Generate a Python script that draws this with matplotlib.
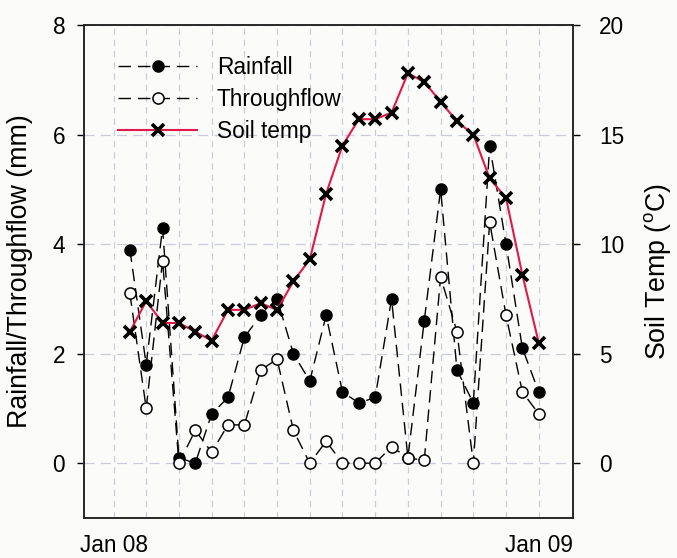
import numpy as np
import matplotlib
matplotlib.use("Agg")
import matplotlib.pyplot as plt

plt.rcParams['font.family'] = ['Liberation Sans', 'DejaVu Sans']

# fortnightly samples, days since 1 Jan 2008
days = np.arange(14, 365, 14)
rainfall = [3.9, 1.8, 4.3, 0.1, 0.0, 0.9, 1.2, 2.3, 2.7, 3.0, 2.0, 1.5, 2.7,
            1.3, 1.1, 1.2, 3.0, 0.1, 2.6, 5.0, 1.7, 1.1, 5.8, 4.0, 2.1, 1.3]
throughflow = [3.1, 1.0, 3.7, 0.0, 0.6, 0.2, 0.7, 0.7, 1.7, 1.9, 0.6, 0.0, 0.4,
               0.0, 0.0, 0.0, 0.3, 0.1, 0.05, 3.4, 2.4, 0.0, 4.4, 2.7, 1.3, 0.9]
soil_temp = [6.0, 7.4, 6.4, 6.4, 6.0, 5.6, 7.0, 7.0, 7.3, 7.0, 8.3, 9.3, 12.3,
             14.5, 15.7, 15.7, 16.0, 17.8, 17.4, 16.5, 15.6, 15.0, 13.0, 12.1, 8.6, 5.5]

xtick_pos = [0, 364]
xtick_labels = ["Jan 08", "Jan 09"]
grid_days = np.arange(0, 365, 28)

bg = '#fbfbf9'
grid_col = '#c9cdd9'
fs = 16.3

fig = plt.figure(figsize=(6.77, 5.58), dpi=100, facecolor=bg)
ax = fig.add_axes([0.124, 0.0717, 0.722, 0.8835], facecolor=bg)
ax2 = ax.twinx()

dash = (9, 5)
ax.plot(days, rainfall, color='black', lw=1.0, dashes=dash, marker='o',
        ms=8, mfc='black', mec='black', label='Rainfall', zorder=3)
ax.plot(days, throughflow, color='black', lw=1.0, dashes=dash, marker='o',
        ms=8, mfc='white', mec='black', mew=1.1, label='Throughflow', zorder=3)
ax2.plot(days, soil_temp, color='#e3184a', lw=1.5, marker='x', ms=8,
         mec='black', mew=2.6, label='Soil temp', zorder=2)

ax.set_xlim(-25.3, 393.1)
ax.set_ylim(-1, 8)
ax2.set_ylim(-2.5, 20)

ax.set_yticks([0, 2, 4, 6, 8])
ax2.set_yticks([0, 5, 10, 15, 20])
ax.set_xticks(xtick_pos)
ax.set_xticklabels(xtick_labels)
ax.set_xticks(grid_days, minor=True)
ax.xaxis.remove_overlapping_locs = False

ax.tick_params(axis='x', which='both', length=0, labelsize=fs, pad=11.5)
ax.tick_params(axis='y', direction='out', length=5, width=1, labelsize=fs, pad=8.5)
ax2.tick_params(axis='y', direction='out', length=5, width=1, labelsize=fs, pad=14)

ax.yaxis.grid(True, color=grid_col, ls=(0, (8, 5)), lw=0.9)
ax.xaxis.grid(True, which='minor', color=grid_col, ls=(0, (5, 4)), lw=0.9)
ax.set_axisbelow(True)

ax.set_ylabel('Rainfall/Throughflow (mm)', fontsize=19.3)
ax.yaxis.set_label_coords(-0.104, 0.5)
ax2.set_ylabel('Soil Temp ($\\mathregular{^oC}$)', fontsize=19.3)
ax2.yaxis.set_label_coords(1.141, 0.5)

for a in (ax, ax2):
    for s in a.spines.values():
        s.set_linewidth(1.1)
        s.set_color('#222222')

h1, l1 = ax.get_legend_handles_labels()
h2, l2 = ax2.get_legend_handles_labels()
leg = ax2.legend(h1 + h2, l1 + l2, loc='upper left', bbox_to_anchor=(0.07, 0.937),
                 frameon=False, fontsize=fs, handlelength=3.5, handletextpad=0.85,
                 labelspacing=0.4, borderaxespad=0, borderpad=0)

fig.savefig('out.png', dpi=100, facecolor=bg)
